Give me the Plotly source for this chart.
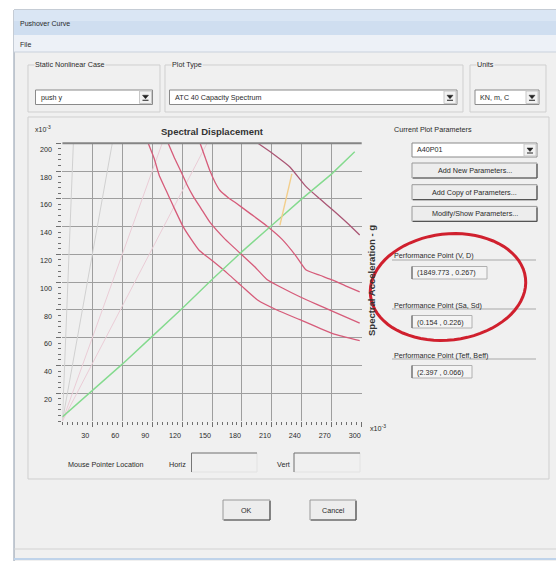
import math
import plotly.graph_objects as go

# ---------------- data (x = Sd x10^-3, y = Sa x10^-3) ----------------
x_tick_vals = [30, 60, 90, 120, 150, 180, 210, 240, 270, 300]
y_tick_vals = [20, 40, 60, 80, 100, 120, 140, 160, 180, 200]

capacity_sd = [0, 30, 60, 90, 120, 150, 180, 210, 240, 270, 293]
capacity_sa = [3, 22, 41, 61, 81, 102, 122, 141, 160, 178, 194]

demand_a_sd = [86, 92, 97, 104, 111, 121, 129, 137, 151, 166, 180, 196, 215, 238, 271, 298]
demand_a_sa = [200, 189, 177, 166, 155, 140, 131, 123, 115, 106, 97, 87, 80, 73, 63, 58]

demand_b_sd = [106, 112, 118, 125, 131, 139, 148, 163, 178, 193, 205, 220, 238, 255, 271, 298]
demand_b_sa = [200, 190, 181, 170, 162, 153, 143, 131, 121, 111, 102, 96, 89.5, 84, 79, 70.5]

demand_c_sd = [138, 143, 148, 153, 158, 166, 174, 189, 204, 220, 234, 244, 258, 271, 285, 298]
demand_c_sa = [200, 190, 180, 172, 166, 161, 157, 149, 141, 131, 119, 109, 105, 101.5, 97, 93]

demand_d_sd = [196, 212, 228, 244, 258, 271, 285, 298]
demand_d_sa = [200, 192, 183, 169, 160, 152, 143, 134]

single_demand_sd = [230, 226, 222, 218]
single_demand_sa = [178, 165, 154, 141]

period1_sd = [0, 11]
period1_sa = [0, 200]
period2_sd = [0, 50]
period2_sa = [0, 200]
period3_sd = [0, 100]
period3_sa = [0, 200]
period4_sd = [0, 145]
period4_sa = [0, 200]

# ---------------- dialog texts ----------------
title_text = "Pushover Curve"
menu_text = "File"
case_label, case_value = "Static Nonlinear Case", "push y"
plot_type_label, plot_type_value = "Plot Type", "ATC 40 Capacity Spectrum"
units_label, units_value = "Units", "KN, m, C"
param_label, param_value = "Current Plot Parameters", "A40P01"
button_texts = ["Add New Parameters...", "Add Copy of Parameters...", "Modify/Show Parameters..."]
pp_labels = ["Performance Point (V, D)", "Performance Point (Sa, Sd)", "Performance Point (Teff, Beff)"]
pp_values = ["(1849.773 , 0.267)", "(0.154 , 0.226)", "(2.397 , 0.066)"]

W, H = 556, 561
FONT = "Liberation Sans, Arial, sans-serif"
TXT = "#2a2a2a"


def px(x):
    return x / W


def py(y):
    return 1 - y / H


shapes = []
annotations = []


def rect(x0, y0, x1, y1, fill="rgba(0,0,0,0)", line="rgba(0,0,0,0)", lw=1, layer="below"):
    shapes.append(dict(type="rect", xref="paper", yref="paper", x0=px(x0), x1=px(x1),
                       y0=py(y1), y1=py(y0), fillcolor=fill, line=dict(color=line, width=lw),
                       layer=layer))


def hline(x0, x1, y, color, lw=1, layer="below"):
    shapes.append(dict(type="line", xref="paper", yref="paper", x0=px(x0), x1=px(x1),
                       y0=py(y), y1=py(y), line=dict(color=color, width=lw), layer=layer))


def vline(x, y0, y1, color, lw=1, layer="below"):
    shapes.append(dict(type="line", xref="paper", yref="paper", x0=px(x), x1=px(x),
                       y0=py(y0), y1=py(y1), line=dict(color=color, width=lw), layer=layer))


def text(x, y, s, size=7.2, anchor="left", color=TXT, bold=False, bg=None, angle=0):
    a = dict(xref="paper", yref="paper", x=px(x), y=py(y), text=("<b>%s</b>" % s) if bold else s,
             showarrow=False, xanchor=anchor, yanchor="middle", textangle=angle,
             font=dict(family=FONT, size=size, color=color))
    if bg:
        a["bgcolor"] = bg
        a["borderpad"] = 0
    annotations.append(a)


def arrow(cx, cy):
    path = "M %f %f L %f %f L %f %f Z" % (px(cx - 3), py(cy - 1.5), px(cx + 3), py(cy - 1.5), px(cx), py(cy + 2))
    shapes.append(dict(type="path", xref="paper", yref="paper", path=path,
                       fillcolor="#222", line=dict(color="#222", width=0.5), layer="below"))
    hline(cx - 3, cx + 3, cy + 3.5, "#222", 1)


def combo(x0, y0, x1, y1, s):
    rect(x0, y0, x1, y1, fill="white", line="#8A8A8A")
    rect(x1 - 13, y0 + 1, x1 - 1, y1 - 1, fill="#F2F2F2", line="#C8C8C8")
    arrow(x1 - 7, (y0 + y1) / 2 - 0.5)
    text(x0 + 3, (y0 + y1) / 2, s)


def button(x0, y0, x1, y1, s):
    rect(x0, y0, x1, y1, fill="#EDEDED", line="#9A9A9A")
    hline(x0 + 1, x1, y1, "#555", 1.2)
    vline(x1, y0 + 1, y1, "#555", 1.2)
    text((x0 + x1) / 2, (y0 + y1) / 2, s, anchor="center")


def group(x0, y0, x1, y1, label=None):
    rect(x0, y0, x1, y1, line="#CFCFCF")
    if label:
        text(x0 + 6, y0, label, bg="#F0F0F0")


# dialog frame
rect(14, 10, 560, 565, fill="#F0F0F0", line="#8A98AA")
rect(14, 10, 560, 35, fill="#CFDEF0")
rect(14, 10, 560, 21, fill="#DAE6F4")
text(18, 24, title_text, size=7)
rect(14, 35, 560, 52, fill="#EDF1F7")
text(18, 45, menu_text, size=7)
hline(14, 560, 52, "#C9D1DC")

# top groups
group(28, 65, 160, 112, case_label)
combo(35.5, 90, 152.5, 104.5, case_value)
group(165, 65, 463, 112, plot_type_label)
combo(169.5, 90, 457, 104.5, plot_type_value)
group(470, 65, 546, 112, units_label)
combo(475, 90, 539, 104.5, units_value)

# chart frame
group(28, 117, 549, 479)

# right panel
text(392, 130, param_label)
combo(412, 143, 537, 157, param_value)
for i, s in enumerate(button_texts):
    button(412, 163 + i * 21.7, 537, 178 + i * 21.7, s)
pp_y = [256, 305, 355]
box_w = [75, 60, 60]
for lab, val, yy, bw in zip(pp_labels, pp_values, pp_y, box_w):
    text(392, yy, lab)
    hline(392, 536, yy + 4, "#A8A8A8")
    rect(412, yy + 10.5, 412 + bw, yy + 23, fill="#F4F4F4", line="#B0B0B0")
    vline(412, yy + 10.5, yy + 23, "#555")
    text(415, yy + 17, val)

# mouse pointer row
text(66, 464, "Mouse Pointer Location")
text(167, 464, "Horiz")
rect(191.5, 453, 257, 472, fill="#F0F0F0", line="#E2E2E2")
hline(191.5, 257, 453, "#777")
vline(191.5, 453, 472, "#777")
text(275, 464, "Vert")
rect(294, 453, 360, 472, fill="#F0F0F0", line="#E2E2E2")
hline(294, 360, 453, "#777")
vline(294, 453, 472, "#777")

# OK / Cancel
button(223, 500, 270, 520, "OK")
button(310, 500, 356, 520, "Cancel")
hline(14, 560, 549, "#D2D2D2")
hline(14, 560, 559, "#BFD3EA", 2)

# chart texts
text(212, 131.5, "Spectral Displacement", size=9.5, anchor="center", bold=True, color="#333")
text(43, 129, "x10<sup>-3</sup>", size=7, anchor="center")
text(368, 428, "x10<sup>-3</sup>", size=7.2, anchor="left")
text(371, 281, "Spectral Acceleration - g", size=9.5, anchor="center", bold=True, color="#333", angle=-90)

# top dark border of plot
hline(62.4, 361.7, 143.3, "#858585", 2, layer="above")

# red ellipse
cx, cy, ax, by, ang = 448, 287, 78, 53, math.radians(6.5)
pts = []
for k in range(73):
    t = 2 * math.pi * k / 72
    ex, ey = ax * math.cos(t), by * math.sin(t)
    X = cx + ex * math.cos(ang) + ey * math.sin(ang)
    Y = cy - ex * math.sin(ang) + ey * math.cos(ang)
    pts.append((px(X), py(Y)))
path = "M " + " L ".join("%f %f" % p for p in pts) + " Z"
shapes.append(dict(type="path", xref="paper", yref="paper", path=path,
                   line=dict(color="#D0202E", width=3), layer="above"))

fig = go.Figure()
gray = "rgb(208,208,208)"
pink = "rgb(234,204,214)"
for sd, sa, c in [(period1_sd, period1_sa, gray), (period2_sd, period2_sa, gray),
                  (period3_sd, period3_sa, pink), (period4_sd, period4_sa, pink)]:
    fig.add_trace(go.Scatter(x=sd, y=sa, mode="lines", line=dict(color=c, width=1), hoverinfo="skip"))

red = "rgb(214,92,122)"
for sd, sa, c in [(demand_a_sd, demand_a_sa, red), (demand_b_sd, demand_b_sa, red),
                  (demand_c_sd, demand_c_sa, red), (demand_d_sd, demand_d_sa, "rgb(170,86,116)")]:
    fig.add_trace(go.Scatter(x=sd, y=sa, mode="lines", line=dict(color=c, width=1.3, shape="spline", smoothing=0.5)))
fig.add_trace(go.Scatter(x=capacity_sd, y=capacity_sa, mode="lines",
                         line=dict(color="rgb(132,218,142)", width=1.4)))
fig.add_trace(go.Scatter(x=single_demand_sd, y=single_demand_sa, mode="lines",
                         line=dict(color="rgb(242,206,140)", width=1.4)))

axis_common = dict(showgrid=True, gridcolor="#9E9E9E", gridwidth=1, zeroline=False, showline=False,
                   ticks="outside", ticklen=5, tickcolor="#707070", tickwidth=1,
                   tickfont=dict(family=FONT, size=7.2, color=TXT), fixedrange=True)
fig.update_layout(
    width=W, height=H, margin=dict(l=0, r=0, t=0, b=0),
    paper_bgcolor="white", plot_bgcolor="white", showlegend=False,
    shapes=shapes, annotations=annotations,
    xaxis=dict(range=[0, 300], domain=[62.4 / W, 361.7 / W], tickvals=x_tick_vals,
               ticktext=[str(v) for v in x_tick_vals], ticklabelshift=-7, ticklabelstandoff=2,
               minor=dict(dtick=5, ticks="outside", ticklen=3, tickcolor="#707070", showgrid=False),
               **axis_common),
    yaxis=dict(range=[0, 200], domain=[1 - 421.1 / H, 1 - 143.3 / H], tickvals=y_tick_vals,
               ticktext=[str(v) for v in y_tick_vals], ticklabelshift=6, ticklabelstandoff=3,
               minor=dict(dtick=4, ticks="outside", ticklen=3, tickcolor="#707070", showgrid=False),
               **axis_common),
)

fig.write_html("out.html", config={"displayModeBar": False},
               post_script="document.body.style.margin='0';document.body.style.overflow='hidden';")
